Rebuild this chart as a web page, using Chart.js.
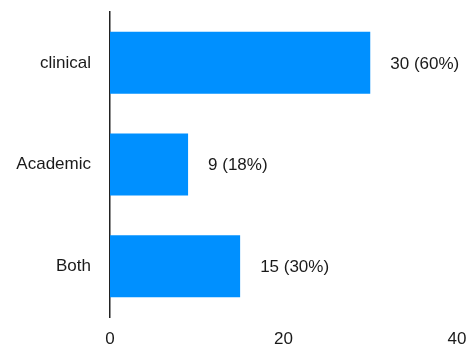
<!DOCTYPE html>
<html>
<head>
<meta charset="utf-8">
<script src="https://cdn.jsdelivr.net/npm/chart.js@4/dist/chart.umd.min.js"></script>
<style>
  html, body { margin: 0; padding: 0; background: #fff; }
  #wrap { width: 473px; height: 344px; }
</style>
</head>
<body>
<div id="wrap"><canvas id="chart"></canvas></div>
<script>
// chart data
const categories = ['clinical', 'Academic', 'Both'];
const counts = [30, 9, 15];
const valueLabels = ['30 (60%)', '9 (18%)', '15 (30%)'];
const xTicks = [0, 20, 40];

const FONT = "'Liberation Sans', Arial, sans-serif";

// draws "n (p%)" to the right of each bar
const valueLabelPlugin = {
  id: 'valueLabels',
  afterDatasetsDraw(chart) {
    const ctx = chart.ctx;
    const meta = chart.getDatasetMeta(0);
    ctx.save();
    ctx.font = '17px ' + FONT;
    ctx.fillStyle = '#1a1a1a';
    ctx.textAlign = 'left';
    ctx.textBaseline = 'middle';
    meta.data.forEach((bar, i) => {
      ctx.fillText(valueLabels[i], bar.x + 20, bar.y + 1);
    });
    ctx.restore();
  }
};

new Chart(document.getElementById('chart'), {
  type: 'bar',
  data: {
    labels: categories,
    datasets: [{
      data: counts,
      backgroundColor: '#0090ff',
      borderWidth: 0,
      barPercentage: 1,
      categoryPercentage: 0.61
    }]
  },
  options: {
    indexAxis: 'y',
    responsive: true,
    maintainAspectRatio: false,
    animation: false,
    layout: {
      padding: { top: 12, right: 16, left: 0, bottom: 0 }
    },
    plugins: {
      legend: { display: false },
      tooltip: { enabled: false }
    },
    scales: {
      x: {
        min: 0,
        max: 40,
        afterBuildTicks(scale) {
          scale.ticks = xTicks.map(v => ({ value: v }));
        },
        afterFit(scale) {
          scale.height = 27;
          scale.paddingLeft = 0;
          scale.paddingRight = 0;
        },
        grid: { display: false, drawTicks: false },
        border: { display: false },
        ticks: {
          padding: 12,
          color: '#1a1a1a',
          font: { family: FONT, size: 17 }
        }
      },
      y: {
        afterFit(scale) {
          scale.width = 110;
          scale.paddingTop = 0;
          scale.paddingBottom = 0;
        },
        grid: { display: false, drawTicks: false },
        border: { display: true, color: '#222', width: 1.5 },
        ticks: {
          padding: 19,
          color: '#1a1a1a',
          font: { family: FONT, size: 17 }
        }
      }
    }
  },
  plugins: [valueLabelPlugin]
});
</script>
</body>
</html>
